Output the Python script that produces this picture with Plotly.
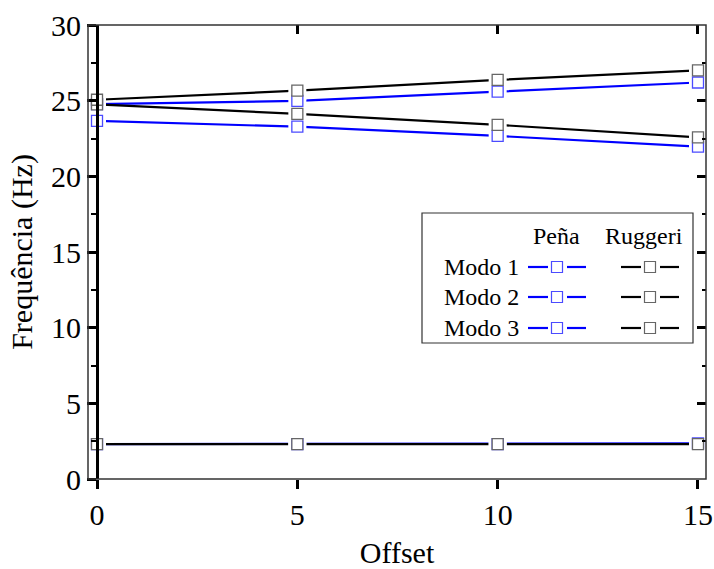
import plotly.graph_objects as go

# ---------------- data ----------------
offset = [0, 5, 10, 15]
pena_modo1 = [2.31, 2.31, 2.31, 2.36]
pena_modo2 = [23.67, 23.28, 22.67, 21.96]
pena_modo3 = [24.77, 24.98, 25.60, 26.20]
ruggeri_modo1 = [2.30, 2.30, 2.30, 2.30]
ruggeri_modo2 = [24.75, 24.13, 23.40, 22.58]
ruggeri_modo3 = [25.06, 25.66, 26.37, 27.00]

x_ticks = [0, 5, 10, 15]
y_ticks = [0, 5, 10, 15, 20, 25, 30]
legend_rows = ["Modo 1", "Modo 2", "Modo 3"]
legend_heads = ["Peña", "Ruggeri"]

FONT = "Times New Roman, Liberation Serif, DejaVu Serif, serif"
BLUE = "#0000ff"
BLUE_MK = "#4b4bff"
BLACK = "#000000"
GRAY_MK = "#666666"

W, H = 714, 569
L, R, T, B = 88, 8, 25, 90
PW, PH = W - L - R, H - T - B

series = [
    (pena_modo1, BLUE, BLUE_MK),
    (pena_modo2, BLUE, BLUE_MK),
    (pena_modo3, BLUE, BLUE_MK),
    (ruggeri_modo1, BLACK, GRAY_MK),
    (ruggeri_modo2, BLACK, GRAY_MK),
    (ruggeri_modo3, BLACK, GRAY_MK),
]

fig = go.Figure()
# lines (main subplot)
for ys, lc, mc in series:
    fig.add_trace(go.Scatter(x=offset, y=ys, mode="lines",
                             line=dict(color=lc, width=2.2),
                             showlegend=False, hoverinfo="skip",
                             xaxis="x", yaxis="y"))
# white gaps around markers (overlay subplot, drawn above lines)
for ys, lc, mc in series:
    fig.add_trace(go.Scatter(x=offset, y=ys, mode="markers",
                             marker=dict(symbol="square", size=18, color="white",
                                         line=dict(width=0)),
                             showlegend=False, hoverinfo="skip",
                             xaxis="x2", yaxis="y2"))
# markers
for ys, lc, mc in series:
    fig.add_trace(go.Scatter(x=offset, y=ys, mode="markers",
                             marker=dict(symbol="square", size=11, color="white",
                                         line=dict(width=1.3, color=mc)),
                             showlegend=False,
                             xaxis="x2", yaxis="y2"))

def px2paper(px, py):
    return (px - L) / PW, (H - B - py) / PH

shapes = []
# frame
shapes.append(dict(type="rect", xref="paper", yref="paper", x0=0, y0=0, x1=1, y1=1,
                   line=dict(color="#333333", width=1.5), layer="above"))
# legend box
x0, y0 = px2paper(422, 343)
x1, y1 = px2paper(693, 213)
shapes.append(dict(type="rect", xref="paper", yref="paper", x0=x0, y0=y0, x1=x1, y1=y1,
                   line=dict(color="#333333", width=1.2), fillcolor="white", layer="above"))

annotations = []
row_y = [267, 297, 328]
for i, name in enumerate(legend_rows):
    ax, ay = px2paper(521, row_y[i])
    annotations.append(dict(x=ax, y=ay, xref="paper", yref="paper", text=name,
                            showarrow=False, xanchor="right", yanchor="middle",
                            font=dict(family=FONT, size=24, color="black")))
    for cx, lc, mc, in [(557, BLUE, BLUE_MK), (650, BLACK, GRAY_MK)]:
        for sx0, sx1 in [(cx - 29, cx - 9), (cx + 10, cx + 29)]:
            a0, b0 = px2paper(sx0, row_y[i])
            a1, b1 = px2paper(sx1, row_y[i])
            shapes.append(dict(type="line", xref="paper", yref="paper", x0=a0, y0=b0,
                               x1=a1, y1=b1, line=dict(color=lc, width=2.2), layer="above"))
        a0, b0 = px2paper(cx - 5.5, row_y[i] + 5.5)
        a1, b1 = px2paper(cx + 5.5, row_y[i] - 5.5)
        shapes.append(dict(type="rect", xref="paper", yref="paper", x0=a0, y0=b0,
                           x1=a1, y1=b1, line=dict(color=mc, width=1.2),
                           fillcolor="white", layer="above"))
for head, cx in zip(legend_heads, [556, 644]):
    ax, ay = px2paper(cx, 236)
    annotations.append(dict(x=ax, y=ay, xref="paper", yref="paper", text=head,
                            showarrow=False, xanchor="center", yanchor="middle",
                            font=dict(family=FONT, size=24, color="black")))

xr = [-0.225, 15.2]
yr = [0, 30]
y_pos = (0 - xr[0]) / (xr[1] - xr[0])

fig.update_layout(
    width=W, height=H,
    margin=dict(l=L, r=R, t=T, b=B, autoexpand=False),
    paper_bgcolor="white", plot_bgcolor="white",
    font=dict(family=FONT, color="black"),
    showlegend=False,
    xaxis=dict(range=xr, tickvals=x_ticks, ticks="outside", ticklen=9, tickwidth=2.5,
               tickcolor="black", showline=False, showgrid=False, zeroline=False,
               automargin=False,
               tickfont=dict(family=FONT, size=30, color="black"),
               title=dict(text="Offset", font=dict(family=FONT, size=30, color="black"),
                          standoff=22)),
    yaxis=dict(range=yr, tickvals=y_ticks, ticks="outside", ticklen=9, tickwidth=2.5,
               tickcolor="black", showline=True, linewidth=3, linecolor="black",
               anchor="free", position=y_pos, automargin=False,
               showgrid=False, zeroline=False,
               minor=dict(ticks="outside", ticklen=5, tickwidth=2, tickcolor="black",
                          dtick=2.5, tick0=0, showgrid=False),
               tickfont=dict(family=FONT, size=30, color="black"),
               title=dict(text="Frequência (Hz)", font=dict(family=FONT, size=30, color="black"),
                          standoff=8)),
    xaxis2=dict(range=xr, matches="x", overlaying="x", side="top", anchor="y2",
                tickvals=x_ticks, ticks="inside", ticklen=9, tickwidth=2.5, tickcolor="black",
                showticklabels=False, showline=False, showgrid=False, zeroline=False),
    yaxis2=dict(range=yr, matches="y", overlaying="y", side="right", anchor="x2",
                tickvals=y_ticks, ticks="inside", ticklen=9, tickwidth=2.5, tickcolor="black",
                minor=dict(ticks="inside", ticklen=4, tickwidth=2, tickcolor="black",
                           dtick=2.5, tick0=0, showgrid=False),
                showticklabels=False, showline=False, showgrid=False, zeroline=False),
    shapes=shapes,
    annotations=annotations,
)

fig.write_html("out.html")
